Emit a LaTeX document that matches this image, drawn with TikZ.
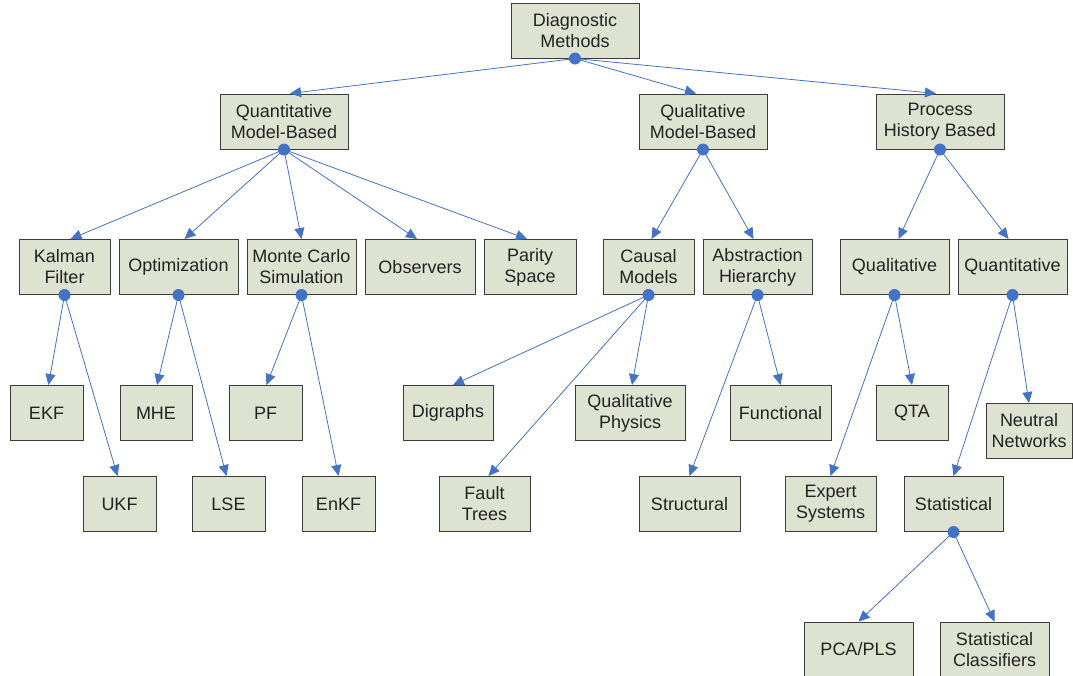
\documentclass[tikz,border=0pt]{standalone}
\usepackage{fontspec}
\setmainfont{Liberation Sans}
\usetikzlibrary{arrows.meta}
\definecolor{boxfill}{RGB}{222,226,208}
\definecolor{boxline}{RGB}{60,60,60}
\definecolor{arrblue}{RGB}{68,114,196}
\definecolor{txt}{RGB}{34,34,34}
\tikzset{
  box/.style={draw=boxline, fill=boxfill, line width=1pt, inner sep=0pt,
    minimum height=55pt, align=center, text=txt,
    font=\fontsize{18}{21}\selectfont},
  arr/.style={draw=arrblue, line width=0.8pt,
    -{Triangle[length=11pt,width=10pt]}},
  dot/.style={circle, fill=arrblue, inner sep=0pt, minimum size=12pt}
}
\begin{document}
\begin{tikzpicture}[x=1pt,y=-1pt]
\useasboundingbox (0,0) rectangle (1073,675);
% level 0
\node[box, minimum width=128pt] (dm) at (575,30.5) {Diagnostic\\Methods};
% level 1
\node[box, minimum width=128pt] (qmb) at (284,121.5) {Quantitative\\Model-Based};
\node[box, minimum width=128pt] (qlmb) at (703,121.5) {Qualitative\\Model-Based};
\node[box, minimum width=128pt] (phb) at (940,121.5) {Process\\History Based};
% level 2
\node[box, minimum width=91pt] (kf) at (64.5,267) {Kalman\\Filter};
\node[box, minimum width=119pt] (opt) at (178.5,267) {Optimization};
\node[box, minimum width=109pt] (mc) at (301.5,267) {Monte Carlo\\Simulation};
\node[box, minimum width=110pt] (obs) at (420,267) {Observers};
\node[box, minimum width=92pt] (par) at (530,267) {Parity\\Space};
\node[box, minimum width=91pt] (cm) at (648.5,267) {Causal\\Models};
\node[box, minimum width=109pt] (ah) at (757.5,267) {Abstraction\\Hierarchy};
\node[box, minimum width=109pt] (ql) at (894.5,267) {Qualitative};
\node[box, minimum width=109pt] (qn) at (1012.5,267) {Quantitative};
% level 3
\node[box, minimum width=73pt] (ekf) at (46.5,413) {EKF};
\node[box, minimum width=72pt] (mhe) at (156,413) {MHE};
\node[box, minimum width=73pt] (pf) at (265.5,413) {PF};
\node[box, minimum width=90pt] (dig) at (448,413) {Digraphs};
\node[box, minimum width=110pt] (qp) at (630,413) {Qualitative\\Physics};
\node[box, minimum width=101pt] (fun) at (780.5,413) {Functional};
\node[box, minimum width=72pt] (qta) at (912,413) {QTA};
\node[box, minimum width=86pt] (nn) at (1029,431) {Neutral\\Networks};
% level 4
\node[box, minimum width=73pt] (ukf) at (119.5,504) {UKF};
\node[box, minimum width=73pt] (lse) at (228.5,504) {LSE};
\node[box, minimum width=73pt] (enkf) at (338.5,504) {EnKF};
\node[box, minimum width=91pt] (ft) at (484.5,504) {Fault\\Trees};
\node[box, minimum width=101pt] (str) at (689.5,504) {Structural};
\node[box, minimum width=91pt] (es) at (830.5,504) {Expert\\Systems};
\node[box, minimum width=99pt] (stat) at (953.5,504) {Statistical};
% level 5
\node[box, minimum width=109pt] (pca) at (858.5,649.5) {PCA/PLS};
\node[box, minimum width=109pt] (sc) at (994.5,649.5) {Statistical\\Classifiers};
% connectors
\draw[arr] (dm.south) -- ([xshift=6pt]qmb.north);
\draw[arr] (dm.south) -- ([xshift=-7pt]qlmb.north);
\draw[arr] (dm.south) -- ([xshift=-4pt]phb.north);
\draw[arr] (qmb.south) -- ([xshift=6pt]kf.north);
\draw[arr] (qmb.south) -- ([xshift=6pt]opt.north);
\draw[arr] (qmb.south) -- (mc.north);
\draw[arr] (qmb.south) -- ([xshift=-3pt]obs.north);
\draw[arr] (qmb.south) -- ([xshift=-3pt]par.north);
\draw[arr] (qlmb.south) -- ([xshift=3pt]cm.north);
\draw[arr] (qlmb.south) -- ([xshift=-4pt]ah.north);
\draw[arr] (phb.south) -- ([xshift=4pt]ql.north);
\draw[arr] (phb.south) -- ([xshift=-4pt]qn.north);
\draw[arr] (kf.south) -- ([xshift=2pt]ekf.north);
\draw[arr] (kf.south) -- ([xshift=-2pt]ukf.north);
\draw[arr] (opt.south) -- ([xshift=1pt]mhe.north);
\draw[arr] (opt.south) -- ([xshift=-2pt]lse.north);
\draw[arr] (mc.south) -- ([xshift=1pt]pf.north);
\draw[arr] (mc.south) -- (enkf.north);
\draw[arr] (cm.south) -- ([xshift=5pt]dig.north);
\draw[arr] (cm.south) -- ([xshift=4pt]ft.north);
\draw[arr] (cm.south) -- ([xshift=2pt]qp.north);
\draw[arr] (ah.south) -- (str.north);
\draw[arr] (ah.south) -- (fun.north);
\draw[arr] (ql.south) -- (es.north);
\draw[arr] (ql.south) -- (qta.north);
\draw[arr] (qn.south) -- (stat.north);
\draw[arr] (qn.south) -- (nn.north);
\draw[arr] (stat.south) -- (pca.north);
\draw[arr] (stat.south) -- (sc.north);
% dots
\foreach \n in {dm,qmb,qlmb,phb,kf,opt,mc,cm,ah,ql,qn,stat}
  \node[dot] (\n-dot) at (\n.south) {};
\end{tikzpicture}
\end{document}
